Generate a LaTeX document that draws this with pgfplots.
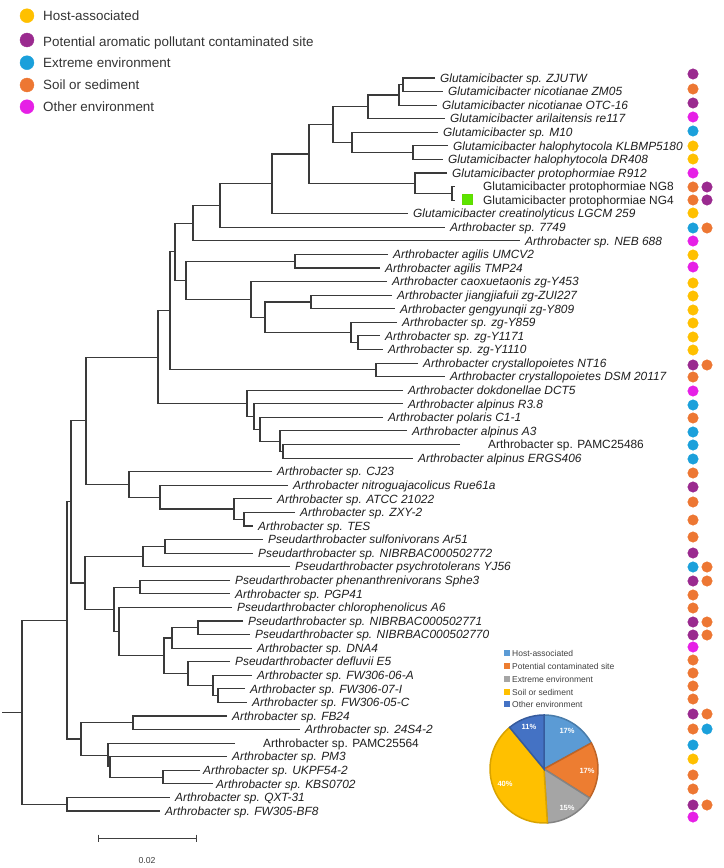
\documentclass[border=0pt]{standalone}
\usepackage{fontspec}
\setmainfont{Liberation Sans}
\usepackage{pgfplots}
\pgfplotsset{compat=1.18}
\definecolor{cY}{HTML}{FFC000}
\definecolor{cP}{HTML}{9A2A8F}
\definecolor{cC}{HTML}{1BA0DB}
\definecolor{cO}{HTML}{ED7733}
\definecolor{cM}{HTML}{E620E6}
\definecolor{treeg}{HTML}{3A3A3A}
\definecolor{pHost}{HTML}{5B9BD5}
\definecolor{pPot}{HTML}{ED7D31}
\definecolor{pExt}{HTML}{A5A5A5}
\definecolor{pSoil}{HTML}{FFC000}
\definecolor{pOth}{HTML}{4472C4}
\definecolor{legtxt}{HTML}{404040}
\newcommand{\lf}{\fontsize{11.9bp}{13bp}\selectfont}
\tikzset{
  lab/.style={anchor=west, inner sep=0pt, font=\lf\itshape, text height=8.5bp, text depth=0pt, text=black!88},
  labu/.style={anchor=west, inner sep=0pt, font=\lf, text height=8.5bp, text depth=0pt, text=black!88},
  leg/.style={anchor=west, inner sep=0pt, font=\fontsize{13.4bp}{14bp}\selectfont, text height=9.6bp, text depth=0pt, text=black!80},
  pleg/.style={anchor=west, inner sep=0pt, font=\fontsize{8.5bp}{9bp}\selectfont, text height=6.1bp, text depth=0pt, text=legtxt},
  pct/.style={inner sep=0pt, font=\fontsize{7.5bp}{8bp}\selectfont\bfseries, text=white}
}
\begin{document}
\begin{tikzpicture}
\begin{axis}[width=724bp, height=868bp, scale only axis,
  xmin=0, xmax=724, ymin=0, ymax=868, y dir=reverse,
  hide axis, clip=false, unbounded coords=jump]
\path (axis cs:0,0) rectangle (axis cs:724,868);
% ---- tree branches (pixel-like units) ----
\addplot[color=treeg, line width=1.1bp, mark=none] coordinates {
(435,78) (403,78) (403,91.6) (443,91.6) (nan,nan)
(403,84.8) (399,84.8) (399,105.1) (437,105.1) (nan,nan)
(399,95.0) (368,95.0) (368,118.7) (445,118.7) (nan,nan)
(448,145.9) (413,145.9) (413,159.4) (443,159.4) (nan,nan)
(438,132.3) (352,132.3) (352,152.7) (413,152.7) (nan,nan)
(368,106.8) (333,106.8) (333,142.5) (352,142.5) (nan,nan)
(455,186.6) (452,186.6) (452,200.2) (455,200.2) (nan,nan)
(447,173.0) (415,173.0) (415,193.4) (452,193.4) (nan,nan)
(333,124.7) (309,124.7) (309,183.2) (415,183.2) (nan,nan)
(309,154.0) (272,154.0) (272,213.7) (408,213.7) (nan,nan)
(272,183.9) (220,183.9) (220,227.3) (445,227.3) (nan,nan)
(220,205.6) (193,205.6) (193,240.9) (520,240.9) (nan,nan)
(388,254.5) (295,254.5) (295,268.0) (380,268.0) (nan,nan)
(392,295.2) (311,295.2) (311,308.8) (395,308.8) (nan,nan)
(380,335.9) (358,335.9) (358,349.5) (383,349.5) (nan,nan)
(397,322.3) (351,322.3) (351,342.7) (358,342.7) (nan,nan)
(311,302.0) (265,302.0) (265,332.5) (351,332.5) (nan,nan)
(387,281.6) (251,281.6) (251,317.3) (265,317.3) (nan,nan)
(295,261.3) (186,261.3) (186,299.5) (251,299.5) (nan,nan)
(193,223.3) (175,223.3) (175,280.4) (186,280.4) (nan,nan)
(418,363.1) (376,363.1) (376,376.6) (445,376.6) (nan,nan)
(175,251.9) (170,251.9) (170,369.9) (376,369.9) (nan,nan)
(460,444.5) (283,444.5) (283,458.1) (413,458.1) (nan,nan)
(407,430.9) (280,430.9) (280,451.3) (283,451.3) (nan,nan)
(383,417.4) (260,417.4) (260,441.1) (280,441.1) (nan,nan)
(403,403.8) (254,403.8) (254,429.3) (260,429.3) (nan,nan)
(403,390.2) (247,390.2) (247,416.6) (254,416.6) (nan,nan)
(170,310.9) (158,310.9) (158,403.4) (247,403.4) (nan,nan)
(295,512.4) (244,512.4) (244,526.0) (253,526.0) (nan,nan)
(272,498.8) (234,498.8) (234,519.2) (244,519.2) (nan,nan)
(288,485.2) (160,485.2) (160,509.0) (234,509.0) (nan,nan)
(272,471.7) (129,471.7) (129,497.1) (160,497.1) (nan,nan)
(158,357.2) (86,357.2) (86,484.4) (129,484.4) (nan,nan)
(263,539.5) (165,539.5) (165,553.1) (253,553.1) (nan,nan)
(165,546.3) (143,546.3) (143,566.7) (290,566.7) (nan,nan)
(230,580.3) (140,580.3) (140,593.8) (230,593.8) (nan,nan)
(243,621.0) (198,621.0) (198,634.6) (250,634.6) (nan,nan)
(198,627.8) (172,627.8) (172,648.1) (252,648.1) (nan,nan)
(245,688.9) (218,688.9) (218,702.4) (247,702.4) (nan,nan)
(252,675.3) (213,675.3) (213,695.7) (218,695.7) (nan,nan)
(230,661.7) (188,661.7) (188,685.5) (213,685.5) (nan,nan)
(172,638.0) (164,638.0) (164,673.6) (188,673.6) (nan,nan)
(232,607.4) (119,607.4) (119,655.8) (164,655.8) (nan,nan)
(140,587.1) (114,587.1) (114,631.6) (119,631.6) (nan,nan)
(143,556.5) (85,556.5) (85,609.4) (114,609.4) (nan,nan)
(86,420.8) (71,420.8) (71,583.0) (85,583.0) (nan,nan)
(227,716.0) (133,716.0) (133,729.6) (300,729.6) (nan,nan)
(200,770.3) (163,770.3) (163,783.9) (213,783.9) (nan,nan)
(227,756.7) (110,756.7) (110,777.1) (163,777.1) (nan,nan)
(235,743.2) (108,743.2) (108,766.9) (110,766.9) (nan,nan)
(133,722.8) (81,722.8) (81,755.1) (108,755.1) (nan,nan)
(71,501.9) (67,501.9) (67,739.0) (81,739.0) (nan,nan)
(170,797.5) (67,797.5) (67,811.0) (160,811.0) (nan,nan)
(67,620.5) (22,620.5) (22,804.3) (67,804.3) (nan,nan)
(2,712.4) (22,712.4)
};
% ---- scale bar ----
\addplot[color=black!75, line width=1bp, mark=none] coordinates {
(98,838) (196,838) (nan,nan) (98,834.5) (98,841.5) (nan,nan) (196,834.5) (196,841.5)};
\node[inner sep=0pt, font=\fontsize{8.7bp}{9bp}\selectfont, text=black!75] at (axis cs:147,860) {0.02};
% ---- leaf labels ----
\node[lab] at (axis cs:440,78.0) {Glutamicibacter sp. ZJUTW};
\node[lab] at (axis cs:448,91.6) {Glutamicibacter nicotianae ZM05};
\node[lab] at (axis cs:442,105.1) {Glutamicibacter nicotianae OTC-16};
\node[lab] at (axis cs:450,118.7) {Glutamicibacter arilaitensis re117};
\node[lab] at (axis cs:443,132.3) {Glutamicibacter sp. M10};
\node[lab] at (axis cs:453,145.9) {Glutamicibacter halophytocola KLBMP5180};
\node[lab] at (axis cs:448,159.4) {Glutamicibacter halophytocola DR408};
\node[lab] at (axis cs:452,173.0) {Glutamicibacter protophormiae R912};
\node[labu] at (axis cs:483,186.6) {Glutamicibacter protophormiae NG8};
\node[labu] at (axis cs:483,200.2) {Glutamicibacter protophormiae NG4};
\node[lab] at (axis cs:413,213.7) {Glutamicibacter creatinolyticus LGCM 259};
\node[lab] at (axis cs:450,227.3) {Arthrobacter sp. 7749};
\node[lab] at (axis cs:525,240.9) {Arthrobacter sp. NEB 688};
\node[lab] at (axis cs:393,254.5) {Arthrobacter agilis UMCV2};
\node[lab] at (axis cs:385,268.0) {Arthrobacter agilis TMP24};
\node[lab] at (axis cs:392,281.6) {Arthrobacter caoxuetaonis zg-Y453};
\node[lab] at (axis cs:397,295.2) {Arthrobacter jiangjiafuii zg-ZUI227};
\node[lab] at (axis cs:400,308.8) {Arthrobacter gengyunqii zg-Y809};
\node[lab] at (axis cs:402,322.3) {Arthrobacter sp. zg-Y859};
\node[lab] at (axis cs:385,335.9) {Arthrobacter sp. zg-Y1171};
\node[lab] at (axis cs:388,349.5) {Arthrobacter sp. zg-Y1110};
\node[lab] at (axis cs:423,363.1) {Arthrobacter crystallopoietes NT16};
\node[lab] at (axis cs:450,376.6) {Arthrobacter crystallopoietes DSM 20117};
\node[lab] at (axis cs:408,390.2) {Arthrobacter dokdonellae DCT5};
\node[lab] at (axis cs:408,403.8) {Arthrobacter alpinus R3.8};
\node[lab] at (axis cs:388,417.4) {Arthrobacter polaris C1-1};
\node[lab] at (axis cs:412,430.9) {Arthrobacter alpinus A3};
\node[labu] at (axis cs:488,444.5) {Arthrobacter sp. PAMC25486};
\node[lab] at (axis cs:418,458.1) {Arthrobacter alpinus ERGS406};
\node[lab] at (axis cs:277,471.7) {Arthrobacter sp. CJ23};
\node[lab] at (axis cs:293,485.2) {Arthrobacter nitroguajacolicus Rue61a};
\node[lab] at (axis cs:277,498.8) {Arthrobacter sp. ATCC 21022};
\node[lab] at (axis cs:300,512.4) {Arthrobacter sp. ZXY-2};
\node[lab] at (axis cs:258,526.0) {Arthrobacter sp. TES};
\node[lab] at (axis cs:268,539.5) {Pseudarthrobacter sulfonivorans Ar51};
\node[lab] at (axis cs:258,553.1) {Pseudarthrobacter sp. NIBRBAC000502772};
\node[lab] at (axis cs:295,566.7) {Pseudarthrobacter psychrotolerans YJ56};
\node[lab] at (axis cs:235,580.3) {Pseudarthrobacter phenanthrenivorans Sphe3};
\node[lab] at (axis cs:235,593.8) {Arthrobacter sp. PGP41};
\node[lab] at (axis cs:237,607.4) {Pseudarthrobacter chlorophenolicus A6};
\node[lab] at (axis cs:248,621.0) {Pseudarthrobacter sp. NIBRBAC000502771};
\node[lab] at (axis cs:255,634.6) {Pseudarthrobacter sp. NIBRBAC000502770};
\node[lab] at (axis cs:257,648.1) {Arthrobacter sp. DNA4};
\node[lab] at (axis cs:235,661.7) {Pseudarthrobacter defluvii E5};
\node[lab] at (axis cs:257,675.3) {Arthrobacter sp. FW306-06-A};
\node[lab] at (axis cs:250,688.9) {Arthrobacter sp. FW306-07-I};
\node[lab] at (axis cs:252,702.4) {Arthrobacter sp. FW306-05-C};
\node[lab] at (axis cs:232,716.0) {Arthrobacter sp. FB24};
\node[lab] at (axis cs:305,729.6) {Arthrobacter sp. 24S4-2};
\node[labu] at (axis cs:263,743.2) {Arthrobacter sp. PAMC25564};
\node[lab] at (axis cs:232,756.7) {Arthrobacter sp. PM3};
\node[lab] at (axis cs:203,770.3) {Arthrobacter sp. UKPF54-2};
\node[lab] at (axis cs:216,783.9) {Arthrobacter sp. KBS0702};
\node[lab] at (axis cs:175,797.5) {Arthrobacter sp. QXT-31};
\node[lab] at (axis cs:165,811.0) {Arthrobacter sp. FW305-BF8};
% ---- green square ----
\addplot[only marks, mark=square*, mark size=5, color=green!55!yellow!85!black, mark options={fill=green!60!yellow!90!black, draw=none}] coordinates {(467,199)};
% ---- environment dots ----
\addplot[only marks, mark=*, mark size=5.3, color=cY] coordinates {
(693,146) (693,159) (693,213) (693,255) (693,283) (693,296) (693,310) (693,323) (693,337) (693,350) (693,759)};
\addplot[only marks, mark=*, mark size=5.3, color=cP] coordinates {
(693,74) (693,103) (707,187) (707,200) (693,365) (693,487) (693,553) (693,581) (693,622) (693,635) (693,714) (693,805)};
\addplot[only marks, mark=*, mark size=5.3, color=cC] coordinates {
(693,131) (693,228) (693,405) (693,432) (693,445) (693,459) (693,567) (707,729) (693,745)};
\addplot[only marks, mark=*, mark size=5.3, color=cO] coordinates {
(693,89) (693,187) (693,200) (707,228) (707,365) (693,377) (693,418) (693,473) (693,502) (693,520) (693,537) (707,567) (707,581) (693,595) (693,608) (707,622) (707,635) (693,660) (693,673) (693,686) (693,699) (707,714) (693,729) (693,775) (693,789) (707,805)};
\addplot[only marks, mark=*, mark size=5.3, color=cM] coordinates {
(693,117) (693,173) (693,241) (693,267) (693,391) (693,647) (693,817)};
% ---- top legend ----
\addplot[only marks, mark=*, mark size=7, color=cY] coordinates {(27,15.7)};
\addplot[only marks, mark=*, mark size=7, color=cP] coordinates {(27,40)};
\addplot[only marks, mark=*, mark size=7, color=cC] coordinates {(27,62.7)};
\addplot[only marks, mark=*, mark size=7, color=cO] coordinates {(27,85)};
\addplot[only marks, mark=*, mark size=7, color=cM] coordinates {(27,106.7)};
\node[leg] at (axis cs:43,15.7) {Host-associated};
\node[leg] at (axis cs:43,41.5) {Potential aromatic pollutant contaminated site};
\node[leg] at (axis cs:43,62.7) {Extreme environment};
\node[leg] at (axis cs:43,85) {Soil or sediment};
\node[leg] at (axis cs:43,106.7) {Other environment};
% ---- pie chart (17, 17, 15, 40, 11 %) ----
\fill[pHost, draw=pHost!80!black, line width=1.5bp] (axis cs:544,769) -- ++(90:54bp) arc[start angle=90, end angle=28.8, radius=54bp] -- cycle;
\fill[pPot, draw=pPot!80!black, line width=1.5bp] (axis cs:544,769) -- ++(28.8:54bp) arc[start angle=28.8, end angle=-32.4, radius=54bp] -- cycle;
\fill[pExt, draw=pExt!80!black, line width=1.5bp] (axis cs:544,769) -- ++(-32.4:54bp) arc[start angle=-32.4, end angle=-86.4, radius=54bp] -- cycle;
\fill[pSoil, draw=pSoil!85!black, line width=1.5bp] (axis cs:544,769) -- ++(-86.4:54bp) arc[start angle=-86.4, end angle=-230.4, radius=54bp] -- cycle;
\fill[pOth, draw=pOth!80!black, line width=1.5bp] (axis cs:544,769) -- ++(-230.4:54bp) arc[start angle=-230.4, end angle=-270, radius=54bp] -- cycle;
\node[pct] at (axis cs:567,731) {17\%};
\node[pct] at (axis cs:587,771) {17\%};
\node[pct] at (axis cs:567,808) {15\%};
\node[pct] at (axis cs:505,784) {40\%};
\node[pct] at (axis cs:529,727) {11\%};
% ---- pie legend ----
\addplot[only marks, mark=square*, mark size=2.4, color=pHost] coordinates {(507,653)};
\addplot[only marks, mark=square*, mark size=2.4, color=pPot] coordinates {(507,666)};
\addplot[only marks, mark=square*, mark size=2.4, color=pExt] coordinates {(507,679)};
\addplot[only marks, mark=square*, mark size=2.4, color=pSoil] coordinates {(507,692)};
\addplot[only marks, mark=square*, mark size=2.4, color=pOth] coordinates {(507,704)};
\node[pleg] at (axis cs:512,653) {Host-associated};
\node[pleg] at (axis cs:512,666) {Potential contaminated site};
\node[pleg] at (axis cs:512,679) {Extreme environment};
\node[pleg] at (axis cs:512,692) {Soil or sediment};
\node[pleg] at (axis cs:512,704) {Other environment};
\end{axis}
\end{tikzpicture}
\end{document}
